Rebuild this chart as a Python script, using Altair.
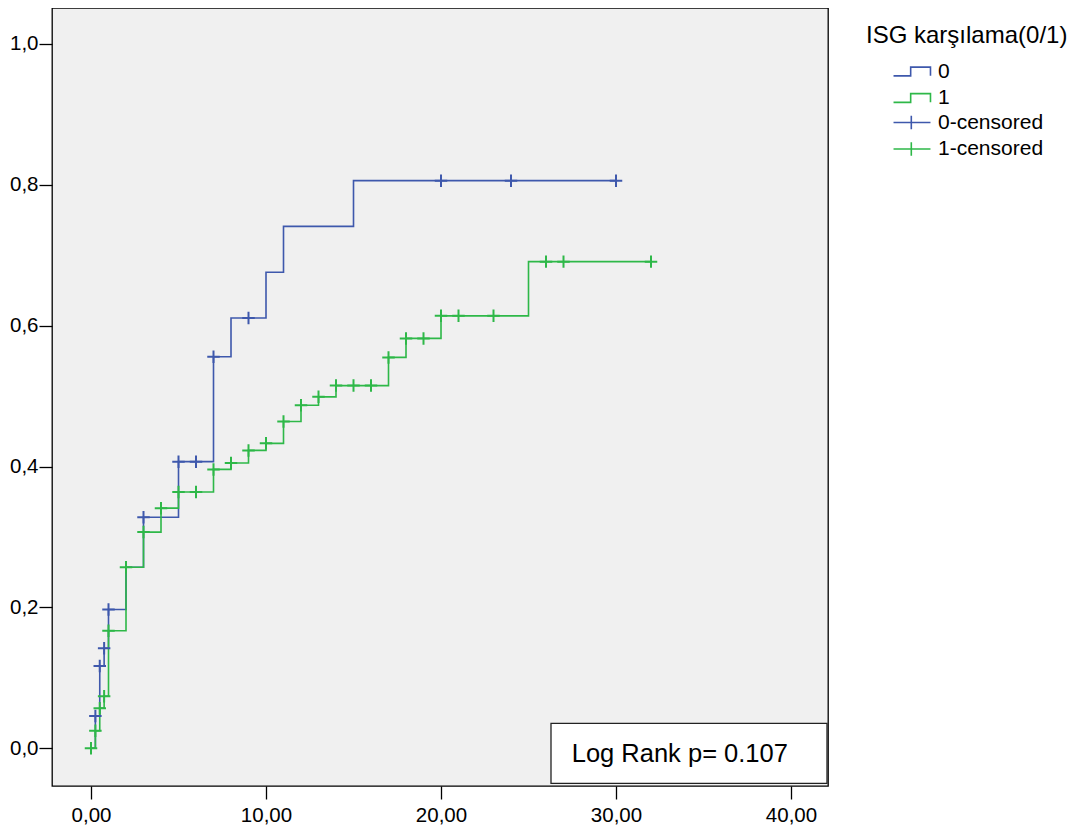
import altair as alt
import pandas as pd

BLUE = "#3E58AC"
GREEN = "#2EB848"
FONT = "Liberation Sans"

# Group 0 (blue): step times and cumulative levels
t0 = [0, 0.25, 0.5, 0.75, 1, 2, 3, 5, 7, 8, 10, 11, 15, 30]
v0 = [0, 0.046, 0.117, 0.142, 0.197, 0.257, 0.328, 0.407, 0.556, 0.611, 0.676, 0.741, 0.806, 0.806]
# Group 0 censored marks
c0_t = [0.25, 0.5, 0.75, 1, 3, 5, 6, 7, 9, 20, 24, 30]
c0_v = [0.046, 0.117, 0.142, 0.197, 0.328, 0.407, 0.407, 0.556, 0.611, 0.806, 0.806, 0.806]

# Group 1 (green): step times and cumulative levels
t1 = [0, 0.25, 0.5, 0.75, 1, 2, 3, 4, 5, 7, 8, 9, 10, 11, 12, 13, 14, 17, 18, 20, 25, 32]
v1 = [0, 0.025, 0.057, 0.074, 0.167, 0.257, 0.307, 0.341, 0.364, 0.396, 0.405, 0.423,
      0.433, 0.464, 0.487, 0.499, 0.515, 0.555, 0.582, 0.614, 0.691, 0.691]
# Group 1 censored marks
c1_t = [0, 0.25, 0.5, 0.75, 1, 2, 3, 4, 5, 6, 7, 8, 9, 10, 11, 12, 13, 14, 15, 16,
        17, 18, 19, 20, 21, 23, 26, 27, 32]
c1_v = [0, 0.025, 0.057, 0.074, 0.167, 0.257, 0.307, 0.341, 0.364, 0.364, 0.396, 0.405,
        0.423, 0.433, 0.464, 0.487, 0.499, 0.515, 0.515, 0.515, 0.555, 0.582, 0.582,
        0.614, 0.614, 0.614, 0.691, 0.691, 0.691]

x_ticks = [0, 10, 20, 30, 40]
y_ticks = [0, 0.2, 0.4, 0.6, 0.8, 1.0]
groups = ["0", "1"]
cens_labels = ["0-censored", "1-censored"]
legend_title = "ISG karşılama(0/1)"
logrank_text = ["Log Rank p= 0.107"]

lines_df = pd.DataFrame({
    "t": t0 + t1,
    "v": v0 + v1,
    "grp": [groups[0]] * len(t0) + [groups[1]] * len(t1),
})
cens_df = pd.DataFrame({
    "t": c0_t + c1_t,
    "v": c0_v + c1_v,
    "lab": [cens_labels[0]] * len(c0_t) + [cens_labels[1]] * len(c1_t),
})
note_df = pd.DataFrame({"label": logrank_text})

CROSS = "M-1,0H1M0,-1V1"
STEP_LEG = "M-2.64,0.62H-0.19V-0.62H2.64V0.62"
CROSS_LEG = "M-2.64,0H2.64M-0.1,-0.95V0.95"

xs = alt.Scale(domain=[-2.229, 42.114], nice=False, zero=False)
ys = alt.Scale(domain=[-0.0535, 1.0511], nice=False, zero=False)

x_axis = alt.Axis(values=x_ticks, title=None, labelPadding=6, labelFlush=False,
                  labelExpr="replace(format(datum.value, '.2f'), '.', ',')")
y_axis = alt.Axis(values=y_ticks, title=None, labelPadding=1, labelFlush=False,
                  labelExpr="replace(format(datum.value, '.1f'), '.', ',')")

common_leg = dict(
    orient="none", legendX=814, symbolSize=196, symbolStrokeWidth=1.6,
    symbolOffset=35.5, labelOffset=15.5, labelFontSize=21, labelFont=FONT,
    labelColor="black", titleFontSize=24, titleFont=FONT, titleFontWeight="normal",
    titleColor="black", titleLimit=400, labelLimit=300, rowPadding=4.5, padding=0,
    symbolFillColor="transparent",
)

lines = alt.Chart(lines_df).mark_line(interpolate="step-after", strokeWidth=1.6).encode(
    x=alt.X("t:Q", scale=xs, axis=x_axis),
    y=alt.Y("v:Q", scale=ys, axis=y_axis),
    color=alt.Color(
        "grp:N",
        scale=alt.Scale(domain=groups, range=[BLUE, GREEN]),
        legend=alt.Legend(title=legend_title, legendY=16, titlePadding=13,
                          symbolType=STEP_LEG, **common_leg),
    ),
)

points = alt.Chart(cens_df).mark_point(
    shape=CROSS, size=156, filled=False, strokeWidth=2, opacity=1
).encode(
    x=alt.X("t:Q", scale=xs, axis=x_axis),
    y=alt.Y("v:Q", scale=ys, axis=y_axis),
    stroke=alt.Stroke(
        "lab:N",
        scale=alt.Scale(domain=cens_labels, range=[BLUE, GREEN]),
        legend=alt.Legend(title=None, legendY=104, symbolType=CROSS_LEG, **common_leg),
    ),
)

box = alt.Chart(note_df).mark_rect(fill="white", stroke="#222222", strokeWidth=1.3).encode(
    x=alt.value(499), x2=alt.value(775), y=alt.value(715.3), y2=alt.value(775.3)
)
note = alt.Chart(note_df).mark_text(
    align="left", baseline="alphabetic", fontSize=25.5, font=FONT, color="black"
).encode(x=alt.value(519.7), y=alt.value(753.7), text="label:N")

chart = alt.layer(lines, points, box, note).properties(
    width=776, height=778,
    autosize=alt.AutoSizeParams(type="none"),
    padding={"left": 44, "top": 0, "right": 250, "bottom": 40},
).configure_view(
    fill="#F0F0F0", stroke="black", strokeWidth=1.3
).configure_axis(
    domain=False, grid=False, tickColor="black", tickSize=13, tickWidth=1.3,
    labelColor="black", labelFont=FONT, labelFontSize=20.5,
)

chart.save("out.html", embed_options={"renderer": "svg", "actions": False})
